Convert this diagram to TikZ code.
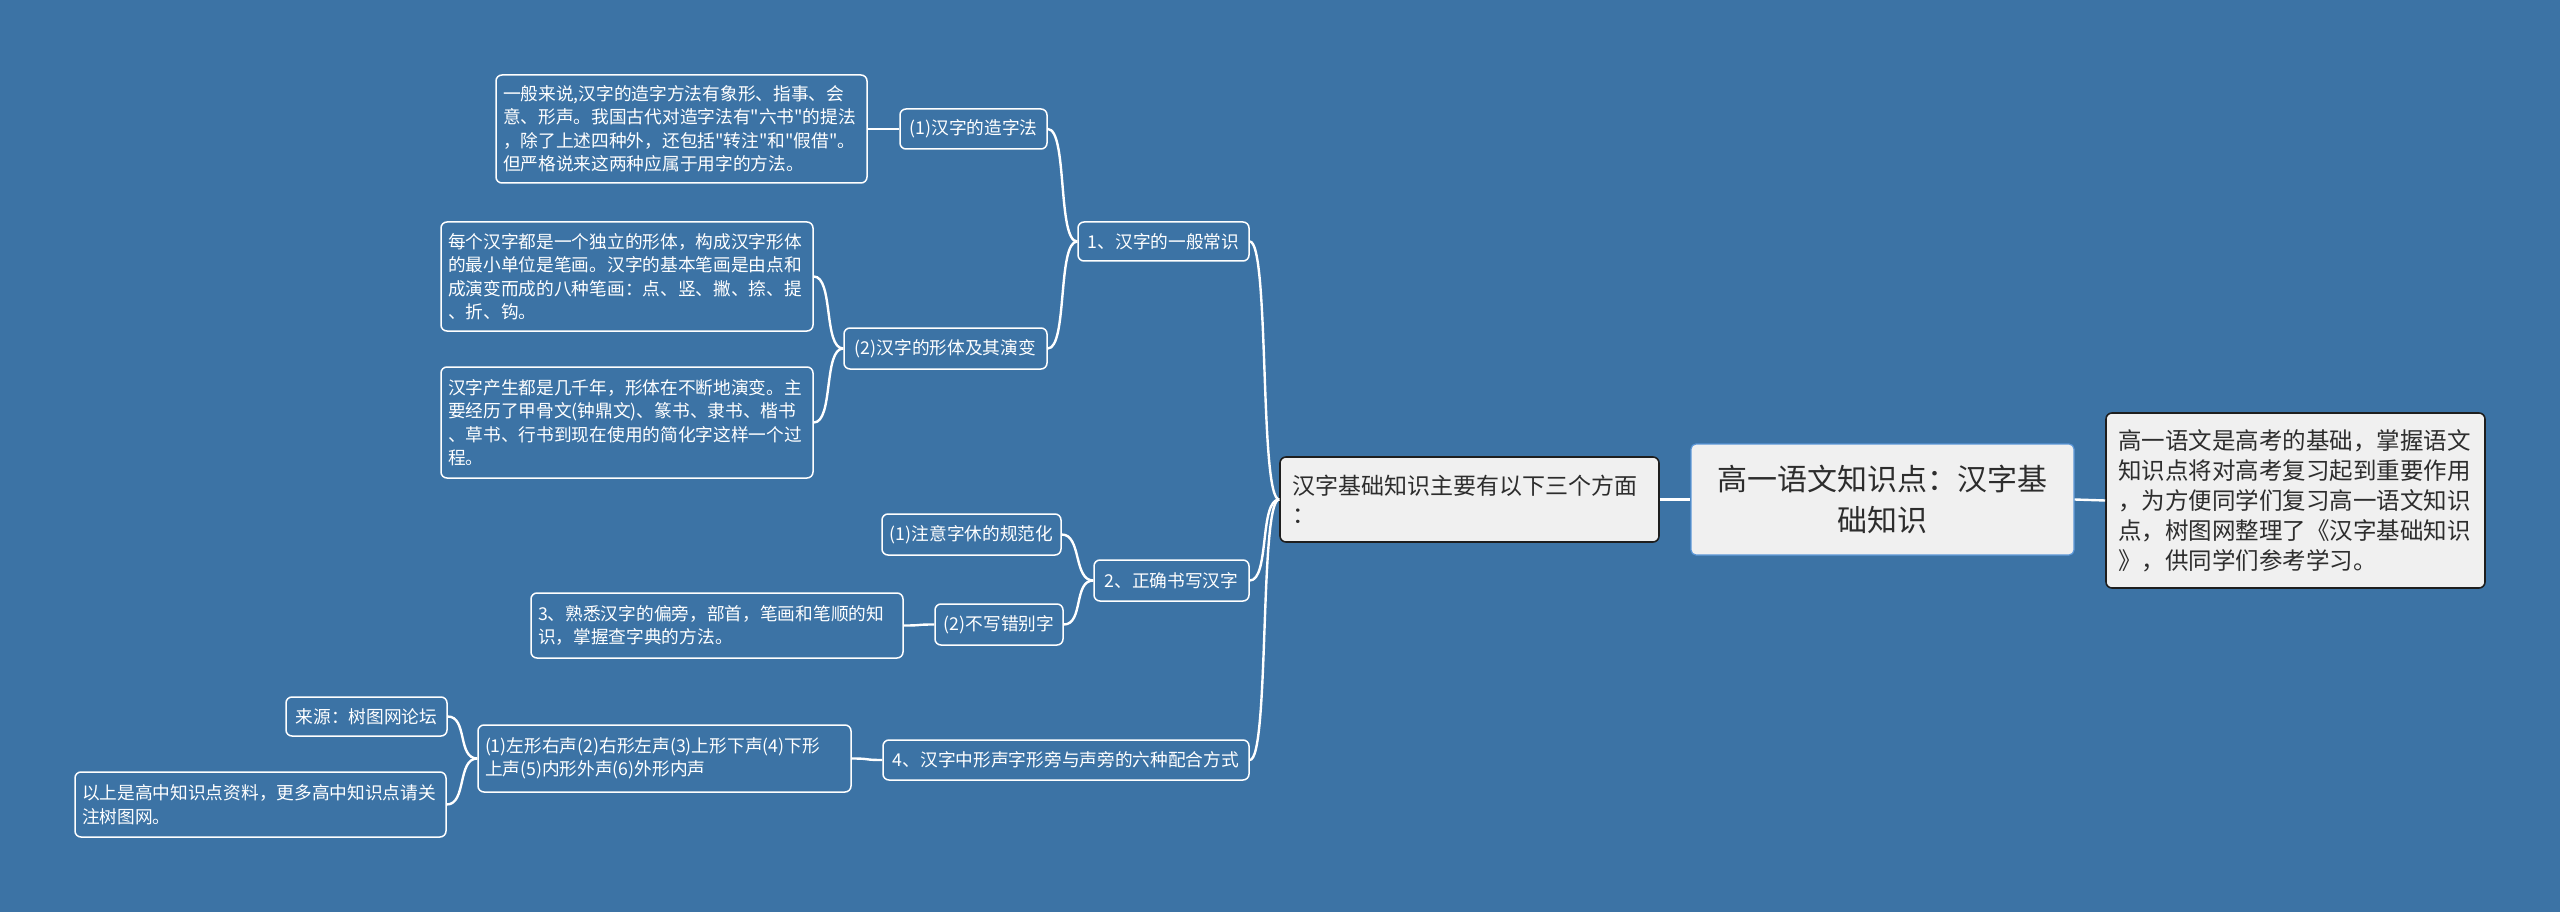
\documentclass[tikz,border=0pt]{standalone}
\usepackage{fontspec}
\setmainfont{Noto Sans CJK SC}[Ligatures=TeXOff]
\definecolor{bg}{RGB}{60,115,165}
\definecolor{boxfill}{RGB}{240,240,240}
\definecolor{rootborder}{RGB}{90,150,215}
\definecolor{darktext}{RGB}{45,45,45}
\definecolor{boxline}{RGB}{30,30,30}
\tikzset{
  leaf/.style={draw=white, line width=1.5pt, rounded corners=6pt, text=white,
    font=\fontsize{17.7}{23.5}\selectfont, inner xsep=7pt, inner ysep=0pt},
  multi/.style={leaf, align=left},
  rootbox/.style={draw=rootborder, line width=1.2pt, fill=boxfill, rounded corners=5pt,
    text=darktext, font=\fontsize{30}{41}\selectfont, align=center},
  greybox/.style={draw=boxline, line width=1.6pt, fill=boxfill, rounded corners=6pt,
    text=darktext, align=left, inner xsep=12pt, inner ysep=0pt},
  conn/.style={draw=white, line width=2.4pt},
}
\newcommand\linkto[2]{\draw[conn] (#1.west) .. controls +(-20,0) and +(20,0) .. (#2.east);}
\begin{document}
\begin{tikzpicture}[x=1pt,y=-1pt]
\fill[bg] (0,0) rectangle (2560,912);
\useasboundingbox (0,0) rectangle (2560,912);

% central nodes
\node[rootbox, minimum width=383pt, minimum height=111pt] (root) at (1882.5,499.5) {高一语文知识点：汉字基\\础知识};
\node[greybox, text width=355pt, minimum height=175pt, font=\fontsize{23.5}{30}\selectfont] (sum) at (2295.5,500.5) {高一语文是高考的基础，掌握语文\\知识点将对高考复习起到重要作用\\，为方便同学们复习高一语文知识\\点，树图网整理了《汉字基础知识\\》，供同学们参考学习。};
\node[greybox, text width=355pt, minimum height=85pt, font=\fontsize{23}{29.5}\selectfont] (main) at (1469.5,499.5) {汉字基础知识主要有以下三个方面\\：};

% level 2
\node[leaf, minimum width=171pt, minimum height=39pt] (n1) at (1163.5,241.5) {1、汉字的一般常识};
\node[leaf, minimum width=155pt, minimum height=41pt] (n2) at (1171.5,580.5) {2、正确书写汉字};
\node[leaf, minimum width=366pt, minimum height=40pt] (n4) at (1066,760) {4、汉字中形声字形旁与声旁的六种配合方式};

% level 3
\node[leaf, minimum width=147pt, minimum height=40pt] (n11) at (973.5,129) {(1)汉字的造字法};
\node[leaf, minimum width=203pt, minimum height=41pt] (n12) at (945.5,348.5) {(2)汉字的形体及其演变};
\node[leaf, minimum width=179pt, minimum height=41pt] (n21) at (971.5,534.5) {(1)注意字休的规范化};
\node[leaf, minimum width=128pt, minimum height=41pt] (n22) at (999,624.5) {(2)不写错别字};
\node[multi, text width=359pt, minimum height=67pt] (n41) at (664.5,758.5) {(1)左形右声(2)右形左声(3)上形下声(4)下形\\上声(5)内形外声(6)外形内声};

% level 4
\node[multi, text width=357pt, minimum height=108pt] (n111) at (681.5,129) {一般来说,汉字的造字方法有象形、指事、会\\意、形声。我国古代对造字法有"六书"的提法\\，除了上述四种外，还包括"转注"和"假借"。\\但严格说来这两种应属于用字的方法。};
\node[multi, text width=358pt, minimum height=109pt] (n121) at (627,276.5) {每个汉字都是一个独立的形体，构成汉字形体\\的最小单位是笔画。汉字的基本笔画是由点和\\成演变而成的八种笔画：点、竖、撇、捺、提\\、折、钩。};
\node[multi, text width=358pt, minimum height=111pt] (n122) at (627,422.5) {汉字产生都是几千年，形体在不断地演变。主\\要经历了甲骨文(钟鼎文)、篆书、隶书、楷书\\、草书、行书到现在使用的简化字这样一个过\\程。};
\node[multi, text width=358pt, minimum height=65pt] (n221) at (717,625.5) {3、熟悉汉字的偏旁，部首，笔画和笔顺的知\\识，掌握查字典的方法。};
\node[leaf, minimum width=161pt, minimum height=39pt] (n411) at (366.5,716.5) {来源：树图网论坛};
\node[multi, text width=357pt, minimum height=65pt] (n412) at (260.5,804.5) {以上是高中知识点资料，更多高中知识点请关\\注树图网。};

% connectors
\draw[conn] (root.east) -- (sum.west);
\draw[conn] (main.east) -- (root.west);
\linkto{main}{n1}
\linkto{main}{n2}
\linkto{main}{n4}
\linkto{n1}{n11}
\linkto{n1}{n12}
\linkto{n2}{n21}
\linkto{n2}{n22}
\linkto{n4}{n41}
\linkto{n11}{n111}
\linkto{n12}{n121}
\linkto{n12}{n122}
\linkto{n22}{n221}
\linkto{n41}{n411}
\linkto{n41}{n412}
\end{tikzpicture}
\end{document}
